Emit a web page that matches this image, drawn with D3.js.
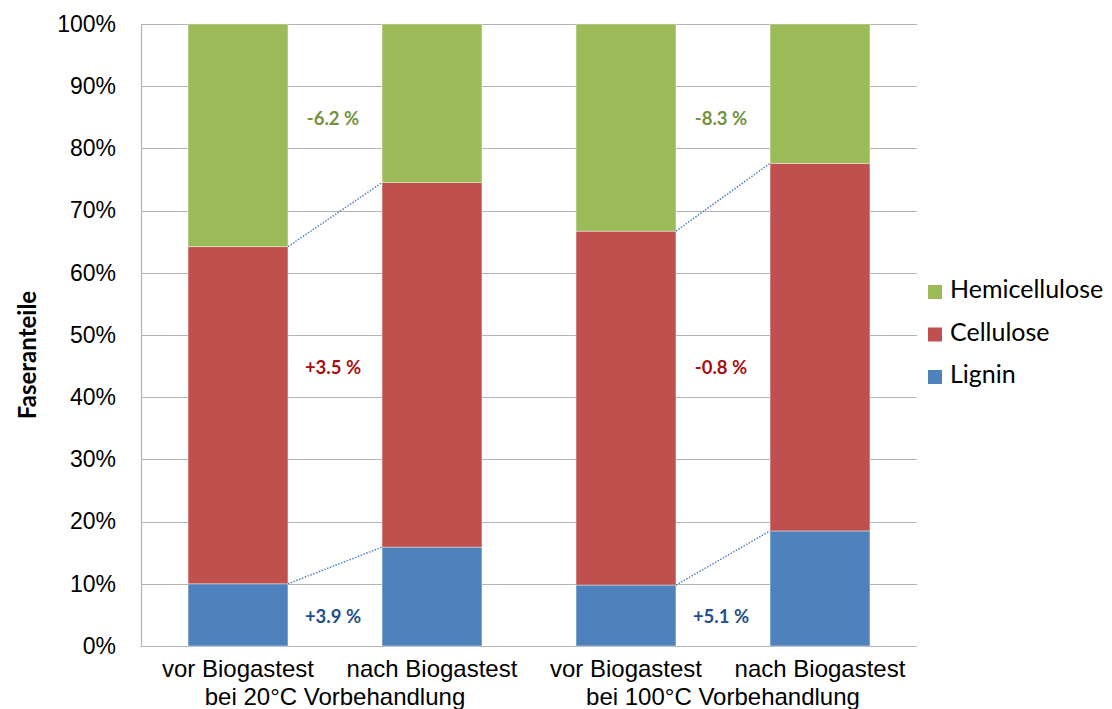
<!DOCTYPE html>
<html>
<head>
<meta charset="utf-8">
<script src="https://cdn.jsdelivr.net/npm/d3@7"></script>
<style>
  body { margin: 0; background: #fff; }
  svg { display: block; }
</style>
</head>
<body>
<svg id="chart" width="1112" height="709"></svg>
<script>
// Fibre composition before/after biogas test, two pretreatment temperatures
const categories = ["vor Biogastest (20)", "nach Biogastest (20)", "vor Biogastest (100)", "nach Biogastest (100)"];
const categoryLabels = ["vor Biogastest", "nach Biogastest", "vor Biogastest", "nach Biogastest"];
const groupLabels = ["bei 20°C Vorbehandlung", "bei 100°C Vorbehandlung"];
const seriesNames = ["Lignin", "Cellulose", "Hemicellulose"];
const lignin = [10.0, 15.9, 9.8, 18.5];
const cellulose = [54.2, 58.6, 56.9, 59.1];
const hemicellulose = [35.8, 25.5, 33.3, 22.4];
const yTicks = [0, 10, 20, 30, 40, 50, 60, 70, 80, 90, 100];
const changeLabels = [
  { group: 0, series: "Hemicellulose", text: "-6.2 %", level: 84.5 },
  { group: 0, series: "Cellulose", text: "+3.5 %", level: 44.5 },
  { group: 0, series: "Lignin", text: "+3.9 %", level: 4.5 },
  { group: 1, series: "Hemicellulose", text: "-8.3 %", level: 84.5 },
  { group: 1, series: "Cellulose", text: "-0.8 %", level: 44.5 },
  { group: 1, series: "Lignin", text: "+5.1 %", level: 4.5 }
];

const colors = { Lignin: "#4F81BD", Cellulose: "#C0504D", Hemicellulose: "#9BBB59" };
const labelColors = { Lignin: "#254F8C", Cellulose: "#A50F0F", Hemicellulose: "#76923C" };

const svg = d3.select("#chart");
const margin = { left: 141, right: 195, top: 24, bottom: 63 };
const W = 1112, H = 709;

const x = d3.scaleBand()
  .domain(categories)
  .range([margin.left, W - margin.right])
  .paddingInner(0.485)
  .paddingOuter(0.2425);

const y = d3.scaleLinear()
  .domain([0, 100])
  .range([H - margin.bottom, margin.top]);

// gridlines
svg.append("g")
  .selectAll("line")
  .data(yTicks)
  .join("line")
  .attr("x1", margin.left)
  .attr("x2", W - margin.right)
  .attr("y1", d => Math.round(y(d)) + 0.5)
  .attr("y2", d => Math.round(y(d)) + 0.5)
  .attr("stroke", "#B3B3B3")
  .attr("stroke-width", 1.2);

// vertical axis line
svg.append("line")
  .attr("x1", margin.left + 0.5).attr("x2", margin.left + 0.5)
  .attr("y1", y(100)).attr("y2", y(0))
  .attr("stroke", "#B3B3B3").attr("stroke-width", 1.2);

// y tick labels
const yAxis = d3.axisLeft(y).tickValues(yTicks).tickFormat(d => d + "%").tickSize(0).tickPadding(25);
const yg = svg.append("g").attr("transform", `translate(${margin.left},0)`).call(yAxis);
yg.select(".domain").remove();
yg.selectAll("text")
  .attr("font-family", "Liberation Sans, Arial, sans-serif")
  .attr("font-size", 23)
  .attr("fill", "#000");

// stacked bars
const table = categories.map((c, i) => ({ cat: c, Lignin: lignin[i], Cellulose: cellulose[i], Hemicellulose: hemicellulose[i] }));
const stack = d3.stack().keys(seriesNames)(table);

svg.append("g")
  .selectAll("g")
  .data(stack)
  .join("g")
  .attr("fill", d => colors[d.key])
  .selectAll("rect")
  .data(d => d)
  .join("rect")
  .attr("x", d => x(d.data.cat))
  .attr("width", x.bandwidth())
  .attr("y", d => y(d[1]))
  .attr("height", d => y(d[0]) - y(d[1]))
  .attr("stroke", "rgba(255,255,255,0.5)")
  .attr("stroke-width", 0.8);

// dotted connectors between the tops of lignin and cellulose
const connectors = [];
[0, 1].forEach(g => {
  const a = categories[g * 2], b = categories[g * 2 + 1];
  [0, 1].forEach(s => {
    connectors.push({
      x1: x(a) + x.bandwidth(), y1: y(stack[s][g * 2][1]),
      x2: x(b), y2: y(stack[s][g * 2 + 1][1])
    });
  });
});
svg.append("g")
  .selectAll("line")
  .data(connectors)
  .join("line")
  .attr("x1", d => d.x1).attr("y1", d => d.y1)
  .attr("x2", d => d.x2).attr("y2", d => d.y2)
  .attr("stroke", "#4F81BD")
  .attr("stroke-width", 1.5)
  .attr("stroke-dasharray", "1.5,1.5");

// change annotations between paired bars
svg.append("g")
  .selectAll("text")
  .data(changeLabels)
  .join("text")
  .attr("x", d => (x(categories[d.group * 2]) + x.bandwidth() + x(categories[d.group * 2 + 1])) / 2 - 2)
  .attr("y", d => y(d.level))
  .attr("text-anchor", "middle")
  .attr("dominant-baseline", "middle")
  .attr("font-family", "Lato, 'Open Sans', sans-serif")
  .attr("font-weight", "bold")
  .attr("font-size", 18.5)
  .attr("fill", d => labelColors[d.series])
  .text(d => d.text);

// category labels
svg.append("g")
  .selectAll("text")
  .data(categories)
  .join("text")
  .attr("x", d => x(d) + x.bandwidth() / 2)
  .attr("y", 677)
  .attr("text-anchor", "middle")
  .attr("font-family", "Liberation Sans, Arial, sans-serif")
  .attr("font-size", 24)
  .attr("fill", "#000")
  .text((d, i) => categoryLabels[i]);

svg.append("g")
  .selectAll("text")
  .data(groupLabels)
  .join("text")
  .attr("x", (d, i) => (x(categories[i * 2]) + x(categories[i * 2 + 1]) + x.bandwidth()) / 2)
  .attr("y", 705)
  .attr("text-anchor", "middle")
  .attr("font-family", "Liberation Sans, Arial, sans-serif")
  .attr("font-size", 24)
  .attr("fill", "#000")
  .text(d => d);

// y axis title
svg.append("text")
  .attr("transform", `translate(30,355) rotate(-90)`)
  .attr("text-anchor", "middle")
  .attr("dominant-baseline", "middle")
  .attr("font-family", "Lato, 'Open Sans', sans-serif")
  .attr("font-weight", "bold")
  .attr("font-size", 24)
  .attr("fill", "#000")
  .text("Faseranteile");

// legend
const legendItems = ["Hemicellulose", "Cellulose", "Lignin"];
const lg = svg.append("g")
  .selectAll("g")
  .data(legendItems)
  .join("g")
  .attr("transform", (d, i) => `translate(928,${292 + i * 42.5})`);
lg.append("rect")
  .attr("x", 0).attr("y", -7).attr("width", 14).attr("height", 14)
  .attr("fill", d => colors[d]);
lg.append("text")
  .attr("x", 22).attr("y", 0)
  .attr("dominant-baseline", "middle")
  .attr("font-family", "Lato, 'Open Sans', sans-serif")
  .attr("font-size", 25)
  .attr("fill", "#000")
  .text(d => d);
</script>
</body>
</html>
